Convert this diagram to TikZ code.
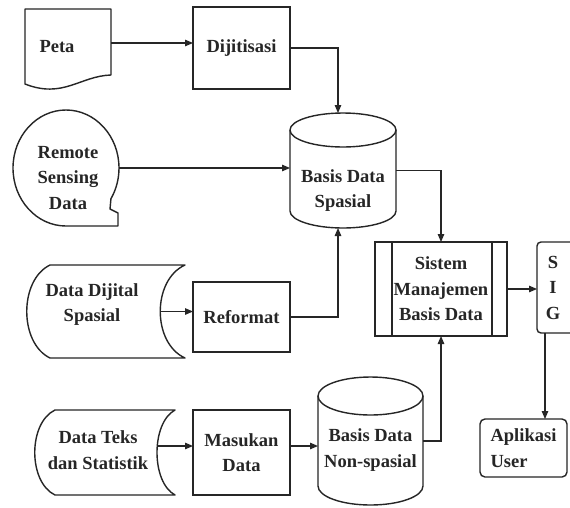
\documentclass[tikz,border=0pt]{standalone}
\usepackage{fontspec}
\setmainfont{Liberation Serif}
\usetikzlibrary{arrows.meta,calc}
\definecolor{ink}{HTML}{262626}
\begin{document}
\begin{tikzpicture}[x=1pt,y=-1pt,
  shp/.style={draw=ink,line width=1.4pt,line join=round},
  frame/.style={inner sep=0pt,outer sep=0pt,draw=none},
  boxed/.style={frame,draw=ink,line width=1.4pt},
  lbl/.style={inner sep=0pt,text=ink,align=center,font=\fontsize{18.5}{25.5}\selectfont\bfseries},
  arr/.style={draw=ink,line width=1.2pt,-{Triangle[length=8pt,width=6.5pt]}}]
\fill[white] (0,0) rectangle (570,507);
\useasboundingbox (0,0) rectangle (570,507);

% ---- shapes drawn directly ----
% Peta (document)
\draw[shp] (25,9) -- (111,9) -- (111,75) .. controls (80,76) and (63,99) .. (25,84) -- cycle;
% Remote sensing data (sequential storage)
\draw[shp] (66,226) arc[start angle=90,end angle=392,x radius=53,y radius=58]
  -- (110,209) -- (118,213) -- (118,226) -- cycle;
% Basis Data Spasial (cylinder)
\draw[shp] (290,130) -- (290,211) arc[start angle=180,end angle=0,x radius=53,y radius=17] -- (396,130);
\draw[shp] (343,130) ellipse[x radius=53,y radius=17];
% Basis Data Non-spasial (cylinder)
\draw[shp] (318,396) -- (318,486) arc[start angle=180,end angle=0,x radius=52.5,y radius=19] -- (423,396);
\draw[shp] (370.5,396) ellipse[x radius=52.5,y radius=19];
% Data Dijital Spasial (stored data)
\draw[shp] (50,265) -- (185,265) .. controls (152,280) and (152,343) .. (185,358)
  -- (50,358) .. controls (19,343) and (19,280) .. (50,265) -- cycle;
% Data Teks dan Statistik (stored data)
\draw[shp] (55,410) -- (175,410) .. controls (151,423) and (151,482) .. (175,495)
  -- (55,495) .. controls (28,482) and (28,423) .. (55,410) -- cycle;
% SIG (cut off at the right edge)
\draw[shp,rounded corners=4pt] (570,242) -- (537,242) -- (537,333) -- (570,333);

% ---- nodes ----
\node[frame,minimum width=86pt,minimum height=68pt] (peta) at (68,43) {};
\node[lbl] (petat) at (57,47) {Peta};
\node[boxed,lbl,minimum width=97pt,minimum height=82pt] (dij) at (241.5,48) {Dijitisasi};
\node[frame,minimum width=106pt,minimum height=116pt] (rs) at (66,168) {};
\node[lbl] (rst) at (68,178) {Remote\\Sensing\\Data};
\node[frame,minimum width=106pt,minimum height=115pt] (bds) at (343,170.5) {};
\node[lbl] (bdst) at (343,190.5) {Basis Data\\Spasial};
\node[frame,minimum width=133pt,minimum height=93pt] (dds) at (93.5,311.5) {};
\node[lbl] (ddst) at (92,304.5) {Data Dijital\\Spasial};
\node[boxed,lbl,minimum width=97pt,minimum height=70pt] (ref) at (241.5,317) {Reformat};
\node[boxed,lbl,minimum width=132pt,minimum height=94pt] (smbd) at (441,289) {Sistem\\Manajemen\\Basis Data};
\draw[shp] ([xshift=17pt]smbd.north west) -- ([xshift=17pt]smbd.south west);
\draw[shp] ([xshift=-15pt]smbd.north east) -- ([xshift=-15pt]smbd.south east);
\node[frame,lbl,minimum width=32pt,minimum height=91pt] (sig) at (553,287.5) {S\\I\\G};
\node[frame,minimum width=122pt,minimum height=85pt] (dts) at (96,446) {};
\node[lbl] (dtst) at (98,450) {Data Teks\\dan Statistik};
\node[boxed,lbl,minimum width=97pt,minimum height=85pt] (mkd) at (241.5,452.5) {Masukan\\Data};
\node[frame,minimum width=105pt,minimum height=128pt] (bdns) at (370.5,441) {};
\node[lbl] (bdnst) at (370.5,450) {Basis Data\\Non-spasial};
\node[boxed,lbl,align=left,rounded corners=5pt,minimum width=87pt,minimum height=58pt] (apl) at (523.5,448) {Aplikasi\\User};
\coordinate (sigS) at ([xshift=-8pt]sig.south);

% ---- connectors ----
\draw[arr] (peta.east) -- (peta.east -| dij.west);
\draw[arr] (dij.east) -| ([xshift=-5pt]bds.north);
\draw[arr] (rs.east) -- (rs.east -| bds.west);
\draw[arr] (bds.east) -| (smbd.north);
\draw[arr] (dds.east) -- (dds.east -| ref.west);
\draw[arr] (ref.east) -| ([xshift=-5pt]bds.south);
\draw[arr] (dts.east) -- (dts.east -| mkd.west);
\draw[arr] (dts.east -| mkd.east) -- (dts.east -| bdns.west);
\draw[arr] (bdns.east) -| (smbd.south);
\draw[arr] (smbd.east) -- (smbd.east -| sig.west);
\draw[arr] (sigS) -- (sigS |- apl.north);
\end{tikzpicture}
\end{document}
